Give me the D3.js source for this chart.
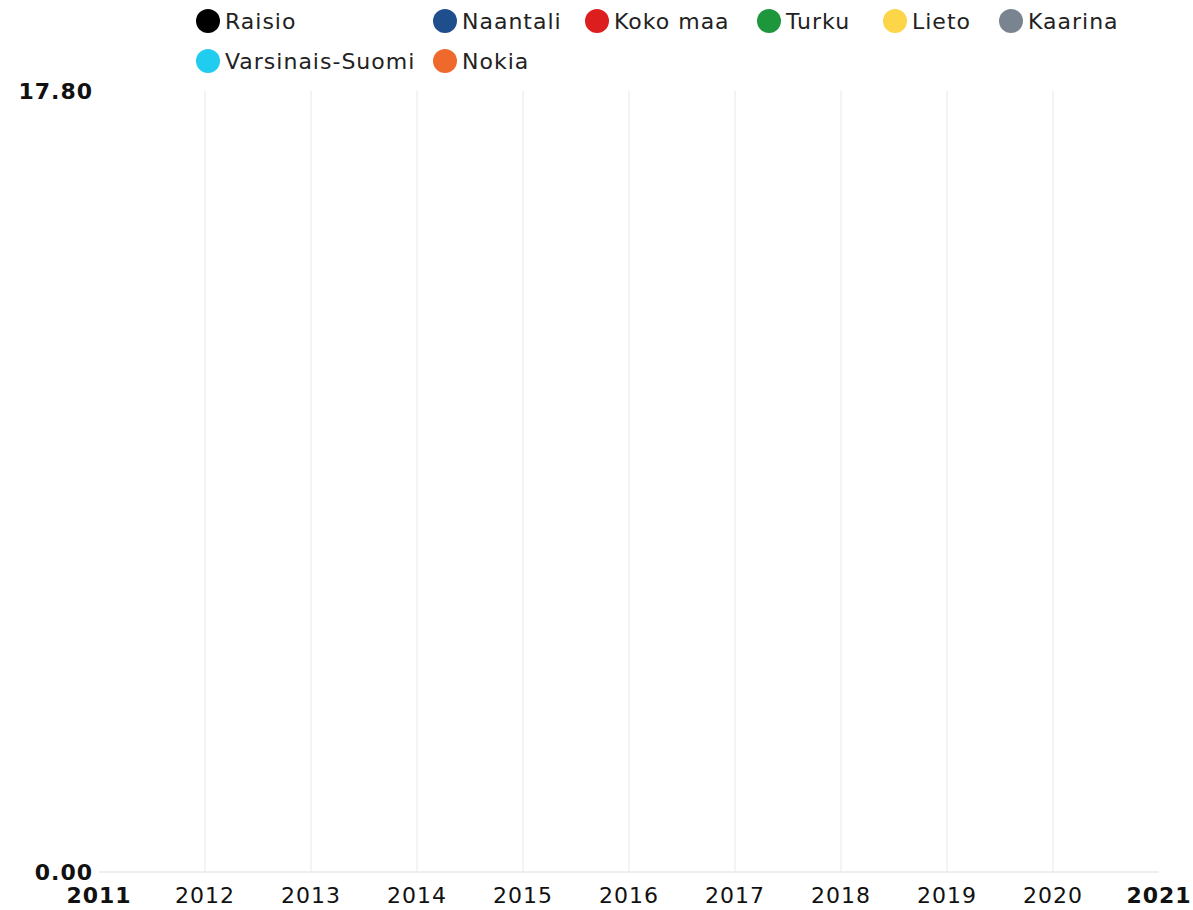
<!DOCTYPE html>
<html><head><meta charset="utf-8">
<script src="https://cdn.jsdelivr.net/npm/d3@7"></script>
<style>
html,body{margin:0;padding:0;background:#fff;}
svg{display:block;font-family:"DejaVu Sans",sans-serif;}
</style></head>
<body><svg id="chart" width="1193" height="910"></svg>
<script>
const years = [2011,2012,2013,2014,2015,2016,2017,2018,2019,2020,2021];
const seriesNames = ["Raisio","Naantali","Koko maa","Turku","Lieto","Kaarina","Varsinais-Suomi","Nokia"];
const seriesColors = ["#000000","#1f4e8c","#dc1e1e","#1e963c","#fcd548","#7a8490","#21cdee","#f0692c"];
// No values are plotted in the reference (empty series)
const seriesValues = [[],[],[],[],[],[],[],[]];
const yTicks = [0, 17.8];

const W = 1193, H = 910;
const m = {left:99, right:34, top:91, bottom:38};
const svg = d3.select("#chart");
const fs = 22, ls = 1;

const x = d3.scaleLinear().domain([years[0], years[years.length-1]]).range([m.left, W - m.right]);
const y = d3.scaleLinear().domain([yTicks[0], yTicks[1]]).range([H - m.bottom, m.top]);

// vertical grid lines
svg.append("g").selectAll("line").data(years.slice(1, -1)).join("line")
  .attr("x1", d => x(d)).attr("x2", d => x(d))
  .attr("y1", y(yTicks[1])).attr("y2", y(0))
  .attr("stroke", "#e8e8e8").attr("stroke-width", 1);

// baseline
svg.append("line").attr("x1", x(years[0])).attr("x2", x(years[years.length-1]))
  .attr("y1", y(0)).attr("y2", y(0)).attr("stroke", "#e8e8e8").attr("stroke-width", 1.5);

// y labels
svg.append("g").selectAll("text").data(yTicks).join("text")
  .attr("x", m.left - 6).attr("y", d => y(d)).attr("dy", "0.35em")
  .attr("text-anchor", "end").attr("font-weight", "bold").attr("font-size", fs)
  .attr("letter-spacing", ls).attr("fill", "#111").text(d => d.toFixed(2));

// x labels
svg.append("g").selectAll("text").data(years).join("text")
  .attr("x", d => x(d)).attr("y", H - 7)
  .attr("text-anchor", "middle").attr("font-size", fs).attr("letter-spacing", ls)
  .attr("font-weight", (d, i) => (i === 0 || i === years.length - 1) ? "bold" : "normal")
  .attr("fill", "#111").text(d => d);

// lines for series (empty)
const line = d3.line().x((d, i) => x(years[i])).y(d => y(d));
svg.append("g").selectAll("path").data(seriesValues).join("path")
  .attr("d", d => d.length ? line(d) : null).attr("fill", "none")
  .attr("stroke", (d, i) => seriesColors[i]).attr("stroke-width", 3);

// legend: column layout
const perRow = 6, r = 12;
const legendColX = [196, 433, 585, 757, 883, 999];
const legendRowY = [21, 61];
const items = svg.append("g").selectAll("g").data(seriesNames).join("g")
  .attr("transform", (d, i) => `translate(${legendColX[i % perRow]},${legendRowY[Math.floor(i / perRow)]})`);
items.append("circle").attr("r", r).attr("cx", r).attr("cy", 0)
  .attr("fill", (d, i) => seriesColors[i]);
items.append("text").attr("x", 2 * r + 5).attr("dy", "0.35em")
  .attr("font-size", fs).attr("letter-spacing", ls).attr("fill", "#222").text(d => d);
</script></body></html>
